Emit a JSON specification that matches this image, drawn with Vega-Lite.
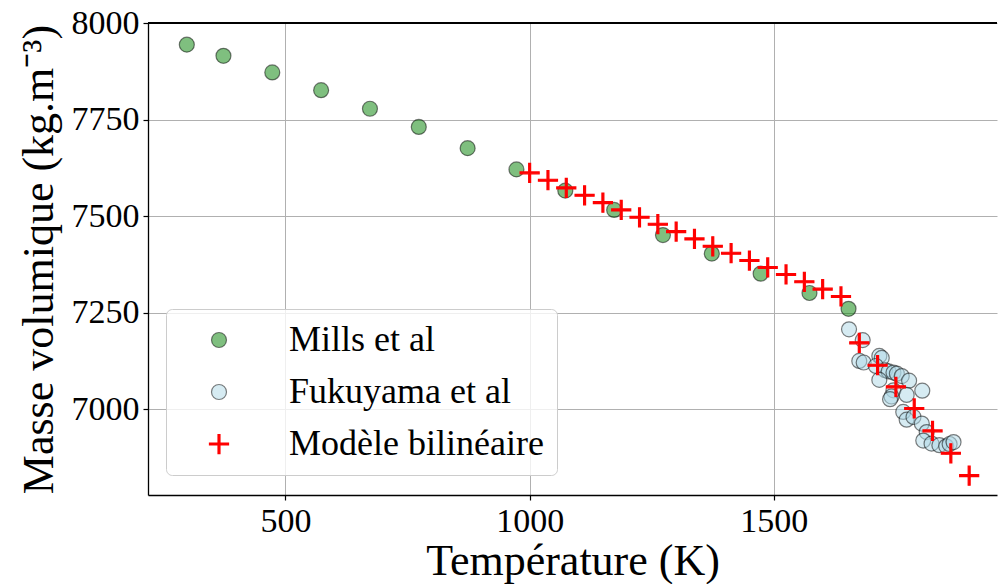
{
  "$schema": "https://vega.github.io/schema/vega-lite/v6.json",
  "width": 849,
  "height": 472,
  "autosize": {"type": "none"},
  "padding": {"left": 148, "top": 23, "right": 2, "bottom": 89},
  "background": "white",
  "config": {
    "font": "Liberation Serif",
    "view": {"stroke": null},
    "axis": {
      "labelFont": "Liberation Serif",
      "titleFont": "Liberation Serif",
      "labelFontSize": 34,
      "titleFontSize": 44,
      "titleFontWeight": "normal",
      "labelColor": "black",
      "titleColor": "black",
      "domainColor": "black",
      "domainWidth": 1.3,
      "tickColor": "black",
      "tickWidth": 1.2,
      "tickSize": 5,
      "labelPadding": 4,
      "format": "d",
      "grid": true,
      "gridColor": "#b0b0b0",
      "gridWidth": 1
    }
  },
  "data": {
    "values": [
      {"series": "Mills et al", "T": 298, "rho": 7944},
      {"series": "Mills et al", "T": 373, "rho": 7915},
      {"series": "Mills et al", "T": 473, "rho": 7872},
      {"series": "Mills et al", "T": 573, "rho": 7826},
      {"series": "Mills et al", "T": 673, "rho": 7778},
      {"series": "Mills et al", "T": 773, "rho": 7731},
      {"series": "Mills et al", "T": 873, "rho": 7676},
      {"series": "Mills et al", "T": 973, "rho": 7621},
      {"series": "Mills et al", "T": 1073, "rho": 7566},
      {"series": "Mills et al", "T": 1173, "rho": 7516},
      {"series": "Mills et al", "T": 1273, "rho": 7451},
      {"series": "Mills et al", "T": 1373, "rho": 7403},
      {"series": "Mills et al", "T": 1473, "rho": 7351},
      {"series": "Mills et al", "T": 1573, "rho": 7301},
      {"series": "Mills et al", "T": 1653, "rho": 7260},
      {"series": "Fukuyama et al", "T": 1654, "rho": 7207},
      {"series": "Fukuyama et al", "T": 1682, "rho": 7179},
      {"series": "Fukuyama et al", "T": 1675, "rho": 7125},
      {"series": "Fukuyama et al", "T": 1684, "rho": 7121},
      {"series": "Fukuyama et al", "T": 1716, "rho": 7138},
      {"series": "Fukuyama et al", "T": 1721, "rho": 7133},
      {"series": "Fukuyama et al", "T": 1709, "rho": 7112},
      {"series": "Fukuyama et al", "T": 1728, "rho": 7101},
      {"series": "Fukuyama et al", "T": 1735, "rho": 7098},
      {"series": "Fukuyama et al", "T": 1745, "rho": 7095},
      {"series": "Fukuyama et al", "T": 1752, "rho": 7092},
      {"series": "Fukuyama et al", "T": 1762, "rho": 7086},
      {"series": "Fukuyama et al", "T": 1777, "rho": 7074},
      {"series": "Fukuyama et al", "T": 1804, "rho": 7048},
      {"series": "Fukuyama et al", "T": 1716, "rho": 7076},
      {"series": "Fukuyama et al", "T": 1745, "rho": 7049},
      {"series": "Fukuyama et al", "T": 1741, "rho": 7033},
      {"series": "Fukuyama et al", "T": 1738, "rho": 7026},
      {"series": "Fukuyama et al", "T": 1772, "rho": 7037},
      {"series": "Fukuyama et al", "T": 1765, "rho": 6993},
      {"series": "Fukuyama et al", "T": 1772, "rho": 6973},
      {"series": "Fukuyama et al", "T": 1786, "rho": 6980},
      {"series": "Fukuyama et al", "T": 1803, "rho": 6963},
      {"series": "Fukuyama et al", "T": 1813, "rho": 6941},
      {"series": "Fukuyama et al", "T": 1806, "rho": 6919},
      {"series": "Fukuyama et al", "T": 1823, "rho": 6911},
      {"series": "Fukuyama et al", "T": 1839, "rho": 6907},
      {"series": "Fukuyama et al", "T": 1853, "rho": 6904},
      {"series": "Fukuyama et al", "T": 1860, "rho": 6910},
      {"series": "Fukuyama et al", "T": 1868, "rho": 6915},
      {"series": "Modèle bilinéaire", "T": 1000, "rho": 7612},
      {"series": "Modèle bilinéaire", "T": 1037.5, "rho": 7593},
      {"series": "Modèle bilinéaire", "T": 1075, "rho": 7573},
      {"series": "Modèle bilinéaire", "T": 1112.5, "rho": 7554},
      {"series": "Modèle bilinéaire", "T": 1150, "rho": 7535},
      {"series": "Modèle bilinéaire", "T": 1187.5, "rho": 7516},
      {"series": "Modèle bilinéaire", "T": 1225, "rho": 7497},
      {"series": "Modèle bilinéaire", "T": 1262.5, "rho": 7479},
      {"series": "Modèle bilinéaire", "T": 1300, "rho": 7460},
      {"series": "Modèle bilinéaire", "T": 1337.5, "rho": 7441},
      {"series": "Modèle bilinéaire", "T": 1375, "rho": 7422},
      {"series": "Modèle bilinéaire", "T": 1412.5, "rho": 7404},
      {"series": "Modèle bilinéaire", "T": 1450, "rho": 7385},
      {"series": "Modèle bilinéaire", "T": 1487.5, "rho": 7367},
      {"series": "Modèle bilinéaire", "T": 1525, "rho": 7349},
      {"series": "Modèle bilinéaire", "T": 1562.5, "rho": 7330},
      {"series": "Modèle bilinéaire", "T": 1600, "rho": 7311},
      {"series": "Modèle bilinéaire", "T": 1637.5, "rho": 7292},
      {"series": "Modèle bilinéaire", "T": 1675, "rho": 7172},
      {"series": "Modèle bilinéaire", "T": 1712.5, "rho": 7114},
      {"series": "Modèle bilinéaire", "T": 1750, "rho": 7058},
      {"series": "Modèle bilinéaire", "T": 1787.5, "rho": 7002},
      {"series": "Modèle bilinéaire", "T": 1825, "rho": 6944},
      {"series": "Modèle bilinéaire", "T": 1862.5, "rho": 6886},
      {"series": "Modèle bilinéaire", "T": 1900, "rho": 6828}
    ]
  },
  "layer": [
    {
      "mark": {"type": "point", "filled": true, "opacity": 1, "size": 225, "strokeWidth": 1.2},
      "encoding": {
        "x": {
          "field": "T",
          "type": "quantitative",
          "scale": {"domain": [218.5, 1957], "nice": false, "zero": false},
          "axis": {"values": [500, 1000, 1500], "title": "Température (K)", "titlePadding": 1}
        },
        "y": {
          "field": "rho",
          "type": "quantitative",
          "scale": {"domain": [6778, 8000], "nice": false, "zero": false},
          "axis": {"values": [7000, 7250, 7500, 7750, 8000], "title": "Masse volumique (kg.m⁻³)", "titlePadding": 10}
        },
        "fill": {
          "field": "series",
          "type": "nominal",
          "scale": {
            "domain": ["Mills et al", "Fukuyama et al", "Modèle bilinéaire"],
            "range": ["rgba(0,128,0,0.5)", "rgba(173,216,230,0.5)", "#ff0000"]
          },
          "legend": {
            "title": null,
            "orient": "none",
            "legendX": 18,
            "legendY": 286,
            "labelFont": "Liberation Serif",
            "labelFontSize": 36,
            "labelColor": "black",
            "symbolSize": 225,
            "symbolStrokeWidth": 1.2,
            "symbolOpacity": 1,
            "fillColor": "rgba(255,255,255,0.8)",
            "strokeColor": "#cccccc",
            "cornerRadius": 6,
            "padding": 13,
            "rowPadding": 16,
            "labelOffset": 52,
            "symbolOffset": 22,
            "labelLimit": 400
          }
        },
        "stroke": {
          "field": "series",
          "type": "nominal",
          "scale": {
            "domain": ["Mills et al", "Fukuyama et al", "Modèle bilinéaire"],
            "range": ["rgba(0,0,0,0.5)", "rgba(0,0,0,0.5)", "#ff0000"]
          }
        },
        "shape": {
          "field": "series",
          "type": "nominal",
          "scale": {
            "domain": ["Mills et al", "Fukuyama et al", "Modèle bilinéaire"],
            "range": ["circle", "circle", "M-1.27,-0.13H-0.13V-1.27H0.13V-0.13H1.27V0.13H0.13V1.27H-0.13V0.13H-1.27Z"]
          }
        }
      }
    },
    {
      "mark": {"type": "rule", "color": "black", "strokeWidth": 1.3},
      "encoding": {"y": {"datum": 8000}}
    }
  ]
}
